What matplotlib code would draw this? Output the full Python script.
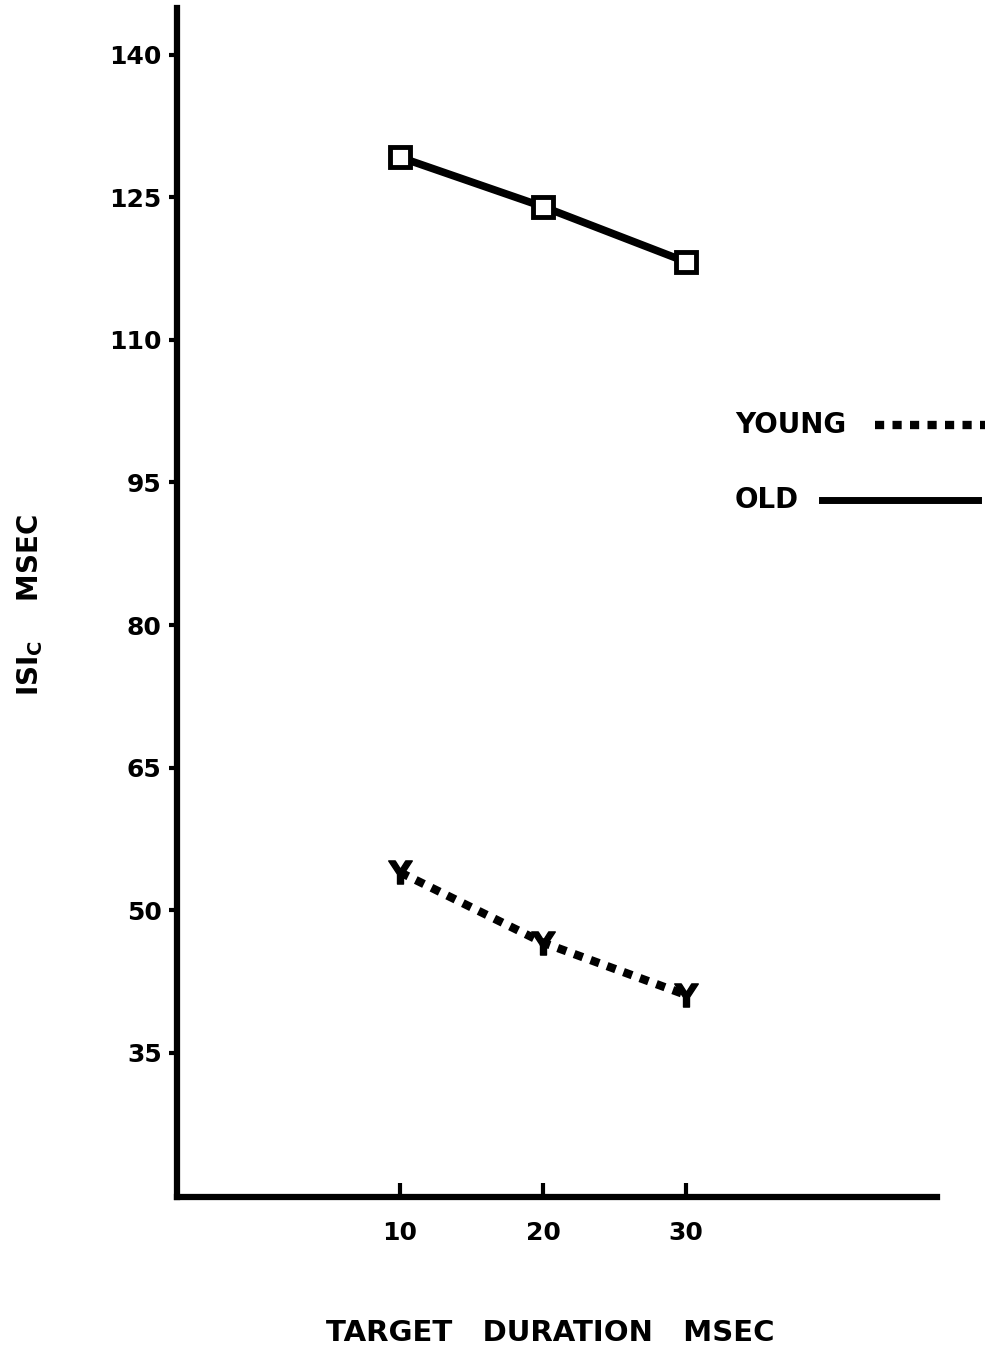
import matplotlib
matplotlib.use("Agg")
import matplotlib.pyplot as plt
from matplotlib.lines import Line2D

# Data
durations = [10, 20, 30]
old_isi = [129.2, 124.0, 118.2]
young_isi = [54.0, 46.6, 41.1]
y_ticks = [35, 50, 65, 80, 95, 110, 125, 140]
x_ticks = [10, 20, 30]
x_tick_labels = ["10", "20", "30"]

plt.rcParams['font.family'] = ['DejaVu Sans']
plt.rcParams['font.weight'] = 'bold'

fig = plt.figure(figsize=(9.91, 13.52), dpi=100)
ax = fig.add_axes([177/991, 1 - 1197/1352, (937-177)/991, (1197-8)/1352])

ax.set_xlim(-5.6, 47.55)
ax.set_ylim(19.85, 144.9)

young_dash = (0, (1.1, 1.0))

# Old: solid thick line with open squares
ax.plot(durations, old_isi, color='black', lw=5.5, solid_capstyle='butt', zorder=2)
ax.plot(durations, old_isi, linestyle='none', marker='s', markersize=14,
        markerfacecolor='white', markeredgecolor='black', markeredgewidth=3.5, zorder=3)

# Young: dashed line with Y markers
ax.plot(durations, young_isi, color='black', lw=6, linestyle=young_dash,
        dash_capstyle='butt', zorder=2)
ax.plot(durations, young_isi, linestyle='none', marker='$\\mathbf{Y}$', markersize=17,
        color='black', zorder=3)

for s in ['top', 'right']:
    ax.spines[s].set_visible(False)
ax.spines['left'].set_linewidth(4.5)
ax.spines['bottom'].set_linewidth(4.5)

ax.set_yticks(y_ticks)
ax.set_yticklabels([str(v) for v in y_ticks], fontsize=18, fontweight='bold')
ax.tick_params(axis='y', direction='out', length=6, width=3, pad=5)

ax.set_xticks(x_ticks)
ax.set_xticklabels(x_tick_labels, fontsize=18, fontweight='bold')
ax.tick_params(axis='x', direction='in', length=10, width=3, pad=17)

fig.text(30/991, 1 - 605/1352, r'ISI$_{\mathbf{C}}$    MSEC', rotation=90,
         fontsize=20, fontweight='bold', ha='center', va='center')
fig.text(550/991, 1 - 1333/1352, 'TARGET   DURATION   MSEC',
         fontsize=21, fontweight='bold', ha='center', va='center')

# Legend (label first, then line sample)
tr = ax.transAxes
ax.text(0.734, 0.6493, 'YOUNG', transform=tr, fontsize=20, fontweight='bold',
        ha='left', va='center', clip_on=False)
ax.add_line(Line2D([0.918, 1.063], [0.6493, 0.6493], transform=tr, color='black',
                   lw=6, linestyle=young_dash, clip_on=False))
ax.text(0.734, 0.5862, 'OLD', transform=tr, fontsize=20, fontweight='bold',
        ha='left', va='center', clip_on=False)
ax.add_line(Line2D([0.849, 1.054], [0.5862, 0.5862], transform=tr, color='black',
                   lw=5, clip_on=False))

fig.savefig('out.png', dpi=100)
